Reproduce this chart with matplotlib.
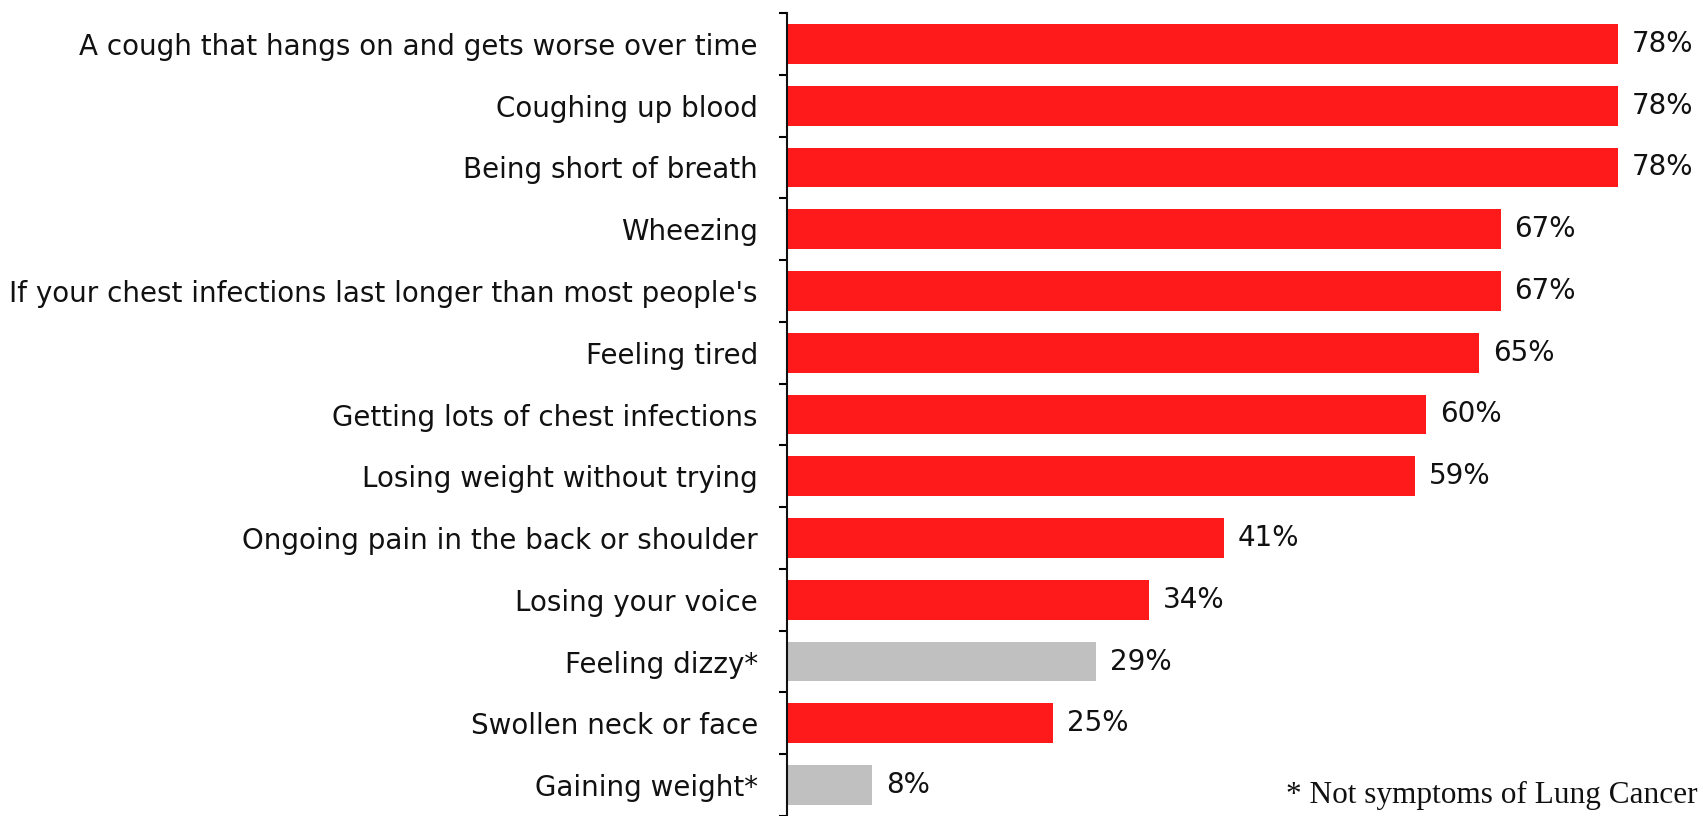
import matplotlib
matplotlib.use("Agg")
import matplotlib.pyplot as plt
import numpy as np

# ---- data ----
symptoms = [
    "A cough that hangs on and gets worse over time",
    "Coughing up blood",
    "Being short of breath",
    "Wheezing",
    "If your chest infections last longer than most people's",
    "Feeling tired",
    "Getting lots of chest infections",
    "Losing weight without trying",
    "Ongoing pain in the back or shoulder",
    "Losing your voice",
    "Feeling dizzy*",
    "Swollen neck or face",
    "Gaining weight*",
]
percent = [78, 78, 78, 67, 67, 65, 60, 59, 41, 34, 29, 25, 8]
is_symptom = [True, True, True, True, True, True, True, True, True, True, False, True, False]

RED = "#fe1a1a"
GREY = "#c0c0c0"
TXT = "#111111"

fig = plt.figure(figsize=(17.03, 8.16), dpi=100)
ax = fig.add_axes([787 / 1703, 0, 1 - 787 / 1703, 1 - 13 / 816])

y = np.arange(len(symptoms))
colors = [RED if s else GREY for s in is_symptom]
ax.barh(y, percent, height=0.645, color=colors, zorder=2)

for yi, v in zip(y, percent):
    ax.annotate(f"{v}%", xy=(v, yi), xytext=(10, 0), textcoords="offset points",
                ha="left", va="center", fontsize=20, color=TXT,
                family="DejaVu Sans")

ax.set_xlim(0, 86)
ax.set_ylim((816 - 43) / 62, -0.5)

ax.set_yticks(y)
ax.set_yticklabels(symptoms, fontsize=20, color=TXT)
ax.set_yticks(np.arange(-0.5, len(symptoms), 1), minor=True)
ax.tick_params(axis="y", which="major", length=0, pad=21)
ax.tick_params(axis="y", which="minor", length=6, width=1.5, direction="out")
ax.set_xticks([])

for side in ["top", "right", "bottom"]:
    ax.spines[side].set_visible(False)
ax.spines["left"].set_linewidth(1.5)
ax.spines["left"].set_color("#111111")

fig.text(1698 / 1703, 1 - 803 / 816, "* Not symptoms of Lung Cancer",
         ha="right", va="baseline", fontsize=22.5, family="Liberation Serif",
         color=TXT)

fig.savefig("out.png", dpi=100)
